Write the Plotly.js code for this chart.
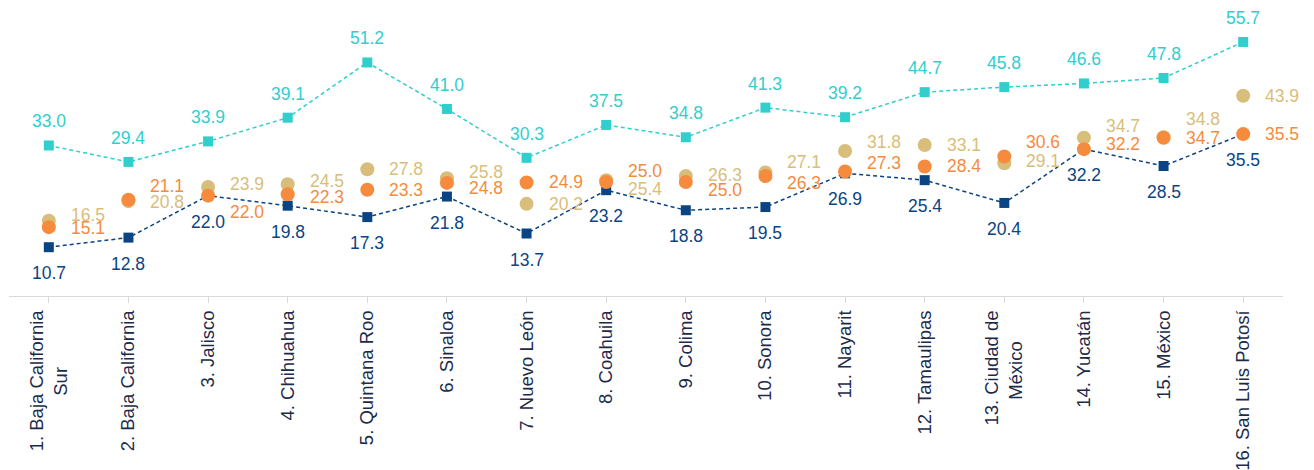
<!DOCTYPE html>
<html>
<head>
<meta charset="utf-8">
<script src="https://cdn.plot.ly/plotly-3.0.1.min.js"></script>
<style>html,body{margin:0;padding:0;background:#fff;}#chart{width:1314px;height:470px;}</style>
</head>
<body>
<div id="chart"></div>
<script>
var categories = ["1. Baja California<br>Sur", "2. Baja California", "3. Jalisco", "4. Chihuahua",
  "5. Quintana Roo", "6. Sinaloa", "7. Nuevo León", "8. Coahuila", "9. Colima", "10. Sonora",
  "11. Nayarit", "12. Tamaulipas", "13. Ciudad de<br>México", "14. Yucatán", "15. México",
  "16. San Luis Potosí"];
var tealValues   = [33.0, 29.4, 33.9, 39.1, 51.2, 41.0, 30.3, 37.5, 34.8, 41.3, 39.2, 44.7, 45.8, 46.6, 47.8, 55.7];
var blueValues   = [10.7, 12.8, 22.0, 19.8, 17.3, 21.8, 13.7, 23.2, 18.8, 19.5, 26.9, 25.4, 20.4, 32.2, 28.5, 35.5];
var tanValues    = [16.5, 20.8, 23.9, 24.5, 27.8, 25.8, 20.2, 25.4, 26.3, 27.1, 31.8, 33.1, 29.1, 34.7, 34.8, 43.9];
var orangeValues = [15.1, 21.1, 22.0, 22.3, 23.3, 24.8, 24.9, 25.0, 25.0, 26.3, 27.3, 28.4, 30.6, 32.2, 34.7, 35.5];

// label nudges (pixels, up positive) to avoid overlaps
var orangeLabelDy = [-1, 14, -16, -3, 0, -5, 0, 11, -8, -7, 8, 0, 14, 5, 0, 0];
var tanLabelDy    = [6, -1, 3, 3, 0, 6, 0, -9, 1, 10, 9, 0, 2, 12, 18, 0];

var COL_TEAL = '#31CECE', COL_BLUE = '#0A4483', COL_ORANGE = '#F68B3D', COL_TAN = '#D8BE7A';
var FONT = 'Liberation Sans, Arial, sans-serif';

// center multi-line rotated tick labels by padding the shorter line
function centerLabel(lbl) {
  var parts = lbl.split('<br>');
  if (parts.length < 2) return lbl;
  var c = document.createElement('canvas').getContext('2d');
  c.font = '18.5px ' + FONT;
  var w = parts.map(function(p){ return c.measureText(p).width; });
  var maxW = Math.max.apply(null, w);
  var nb = c.measureText('\u00A0').width;
  return parts.map(function(p, i){
    var n = Math.round((maxW - w[i]) / 2 / nb);
    return p + (n > 0 ? Array(n + 1).join('\u00A0') : '');
  }).join('<br>');
}
var tickText = categories.map(centerLabel);
var xIdx = categories.map(function(_, i){ return i; });

var traces = [
  {x: xIdx, y: tealValues, mode: 'lines+markers', type: 'scatter',
   line: {color: COL_TEAL, width: 1.5, dash: '4px,3px'},
   marker: {symbol: 'square', size: 10, color: COL_TEAL}, hoverinfo: 'skip'},
  {x: xIdx, y: blueValues, mode: 'lines+markers', type: 'scatter',
   line: {color: COL_BLUE, width: 1.5, dash: '4px,3px'},
   marker: {symbol: 'square', size: 10, color: COL_BLUE}, hoverinfo: 'skip'},
  {x: xIdx, y: tanValues, mode: 'markers', type: 'scatter',
   marker: {symbol: 'circle', size: 14, color: COL_TAN}, hoverinfo: 'skip'},
  {x: xIdx, y: orangeValues, mode: 'markers', type: 'scatter',
   marker: {symbol: 'circle', size: 14, color: COL_ORANGE}, hoverinfo: 'skip'}
];

var ann = [];
function lab(i, v, color, xs, ys, xanchor) {
  ann.push({x: i, y: v, xref: 'x', yref: 'y', text: v.toFixed(1), showarrow: false,
    xanchor: xanchor, yanchor: 'middle', xshift: xs, yshift: ys,
    font: {family: FONT, size: 17.5, color: color}});
}
xIdx.forEach(function(i){
  lab(i, tealValues[i], COL_TEAL, 0, 24, 'center');
  lab(i, blueValues[i], COL_BLUE, 0, -26, 'center');
  lab(i, tanValues[i], COL_TAN, 20, tanLabelDy[i], 'left');
  lab(i, orangeValues[i], COL_ORANGE, 20, orangeLabelDy[i], 'left');
});

var layout = {
  width: 1314, height: 470,
  margin: {l: 9, r: 31, t: 5, b: 174, pad: 0},
  paper_bgcolor: '#ffffff', plot_bgcolor: '#ffffff',
  showlegend: false,
  font: {family: FONT},
  xaxis: {
    tickmode: 'array', tickvals: xIdx, ticktext: tickText,
    range: [-0.5, categories.length - 0.5],
    tickangle: -90, showline: true, linecolor: '#D9D9D9', linewidth: 1,
    ticks: 'outside', tickcolor: '#D9D9D9', ticklen: 6, showgrid: false, zeroline: false,
    tickfont: {family: FONT, size: 18.5, color: '#1C2B4A'}
  },
  yaxis: {range: [0, 63.8], visible: false, showgrid: false, zeroline: false},
  annotations: ann
};

Plotly.newPlot('chart', traces, layout, {displayModeBar: false, staticPlot: true});
</script>
</body>
</html>
